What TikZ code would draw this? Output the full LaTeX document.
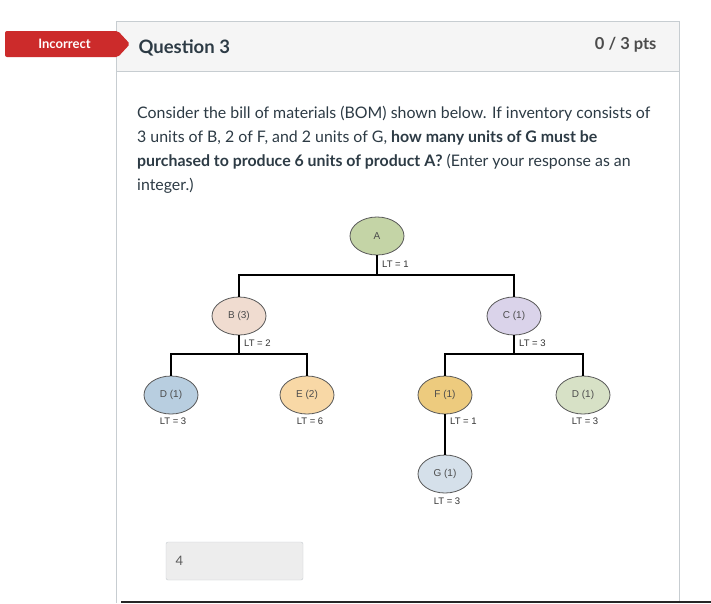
\documentclass[tikz,border=0pt]{standalone}
\usepackage{fontspec}
\setmainfont{Lato}
\newfontfamily\bomfont{Liberation Sans}
\usetikzlibrary{shapes.geometric}
\definecolor{inktext}{HTML}{2D3B45}
\definecolor{panelline}{HTML}{C7CDD1}
\definecolor{headbg}{HTML}{F5F5F5}
\definecolor{tagred}{HTML}{CC2B2B}
\definecolor{fillA}{HTML}{C4D4A6}
\definecolor{fillB}{HTML}{F0DCD0}
\definecolor{fillC}{HTML}{DAD3EA}
\definecolor{fillD}{HTML}{B8CEE0}
\definecolor{fillE}{HTML}{F8D8A6}
\definecolor{fillF}{HTML}{EDCB7E}
\definecolor{fillDr}{HTML}{D7E1C6}
\definecolor{fillG}{HTML}{D5E0EA}
\begin{document}
\begin{tikzpicture}[x=1pt, y=-1pt,
    part/.style={ellipse, draw=black!65, line width=0.8pt, minimum width=54pt,
        minimum height=38pt, inner sep=0pt, text=black!70,
        font=\bomfont\fontsize{10}{10}\selectfont},
    lt/.style={inner sep=0pt, text=black!80, font=\bomfont\fontsize{9.5}{10}\selectfont},
    link/.style={black, line width=1.8pt}]
    \useasboundingbox (0,0) rectangle (711,603);
    \fill[white] (0,0) rectangle (711,603);

    % panel and header
    \draw[panelline, fill=headbg] (116,21) rectangle (679,71);
    \draw[panelline] (116,71) -- (116,603);
    \draw[panelline] (679,71) -- (679,603);
    \draw[black!85, line width=2pt] (121,601.5) -- (711,601.5);

    \fill[tagred, rounded corners=2pt] (5,31) -- (118,31) -- (130,44) -- (118,57) -- (5,57) -- cycle;
    \node[text=white, font=\bfseries\fontsize{13}{13}\selectfont] (tag) at (64.5,43.5) {Incorrect};
    \node[anchor=west, text=inktext, font=\bfseries\fontsize{18.5}{18}\selectfont] (qtitle) at (135,47.5) {Question 3};
    \node[anchor=east, text=black!70, font=\bfseries\fontsize{16.5}{16}\selectfont] (pts) at (660,44.5) {0 / 3 pts};

    \node[anchor=north west, align=left, text=inktext, inner sep=0pt,
        font=\fontsize{15.9}{24}\selectfont] (prompt) at (137,105.5)
        {Consider the bill of materials (BOM) shown below. If inventory consists of\\
         3 units of B, 2 of F, and 2 units of G, \textbf{how many units of G must be}\\
         \textbf{purchased to produce 6 units of product A?} (Enter your response as an\\
         integer.)};

    % bill of materials
    \node[part, fill=fillA] (A) at (377,236) {A};
    \node[part, fill=fillB] (B) at (239,316) {B (3)};
    \node[part, fill=fillC] (C) at (514,316) {C (1)};
    \node[part, fill=fillD] (D) at (171,395) {D (1)};
    \node[part, fill=fillE] (E) at (307,395) {E (2)};
    \node[part, fill=fillF] (F) at (445,395) {F (1)};
    \node[part, fill=fillDr] (Dr) at (583,395) {D (1)};
    \node[part, fill=fillG] (G) at (445,474) {G (1)};

    \coordinate (jA) at (377,275);
    \coordinate (jB) at (239,354);
    \coordinate (jC) at (514,354);
    \draw[link] (A) -- (jA);
    \draw[link] (B) |- (jA) -| (C);
    \draw[link] (B) -- (jB);
    \draw[link] (D) |- (jB) -| (E);
    \draw[link] (C) -- (jC);
    \draw[link] (F) |- (jC) -| (Dr);
    \draw[link] (F) -- (G);

    \node[lt, anchor=west] (ltA) at (382,264) {LT = 1};
    \node[lt, anchor=west] (ltB) at (244,343) {LT = 2};
    \node[lt, anchor=west] (ltC) at (519,343) {LT = 3};
    \node[lt] (ltD) at (173,421) {LT = 3};
    \node[lt] (ltE) at (310,421) {LT = 6};
    \node[lt, anchor=west] (ltF) at (450,421) {LT = 1};
    \node[lt] (ltDr) at (585,421) {LT = 3};
    \node[lt] (ltG) at (447,501) {LT = 3};

    % answer field
    \draw[panelline, fill=black!7, rounded corners=2pt] (166,542) rectangle (303,580);
    \node[anchor=west, text=black!65, font=\fontsize{13}{13}\selectfont] (answer) at (172,561) {4};
\end{tikzpicture}
\end{document}
